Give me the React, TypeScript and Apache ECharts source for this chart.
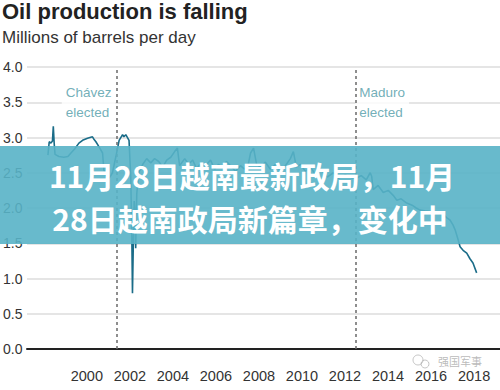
import React, { useEffect, useRef } from "react";
import * as echarts from "echarts";

// ---- data (years positioned on the chart's own year scale) ----
const years = [
  1998.19, 1998.25, 1998.33, 1998.4, 1998.44, 1998.48, 1998.52, 1998.7, 1998.93, 1999.12,
  1999.26, 1999.44, 1999.63, 1999.8, 2000.03, 2000.26, 2000.32, 2000.42, 2000.56, 2000.73,
  2000.79, 2000.96, 2001.07, 2001.19, 2001.35, 2001.5, 2001.66, 2001.72, 2001.81, 2001.96,
  2002.04, 2002.09, 2002.12, 2002.16, 2002.2, 2002.25, 2002.27, 2002.32, 2002.41, 2002.6,
  2002.78, 2002.97, 2003.15, 2003.34, 2003.53, 2003.71, 2003.9, 2004.08, 2004.21, 2004.31,
  2004.55, 2004.73, 2004.92, 2005.1, 2005.29, 2005.52, 2005.75, 2005.94, 2006.12, 2006.31,
  2006.49, 2006.68, 2006.91, 2007.14, 2007.33, 2007.51, 2007.61, 2007.75, 2007.89, 2008.07,
  2008.3, 2008.53, 2008.77, 2009.0, 2009.23, 2009.46, 2009.6, 2009.74, 2009.93, 2010.16,
  2010.39, 2010.62, 2010.85, 2011.18, 2011.46, 2011.69, 2012.01, 2012.32, 2012.52, 2012.76,
  2012.99, 2013.17, 2013.24, 2013.31, 2013.54, 2013.78, 2014.01, 2014.24, 2014.41, 2014.61,
  2014.87, 2015.12, 2015.31, 2015.49, 2015.72, 2016.0, 2016.28, 2016.56, 2016.74, 2016.88,
  2017.02, 2017.12, 2017.26, 2017.35, 2017.49, 2017.66, 2017.81, 2017.95, 2018.12,
];
const production = [
  2.75, 2.94, 2.92, 2.95, 3.16, 2.92, 2.76, 2.73, 2.72, 2.73,
  2.78, 2.84, 2.92, 2.96, 2.99, 3.01, 2.98, 2.94, 2.87, 2.78,
  2.54, 2.4, 2.44, 2.5, 2.73, 2.96, 3.04, 3.01, 3.04, 2.96,
  2.44, 1.6, 0.79, 1.5, 2.1, 1.9, 1.43, 2.2, 2.5, 2.62,
  2.7, 2.64, 2.7, 2.66, 2.58, 2.68, 2.72, 2.8, 2.85, 2.6,
  2.7, 2.62, 2.68, 2.56, 2.63, 2.6, 2.68, 2.55, 2.62, 2.58,
  2.66, 2.6, 2.52, 2.6, 2.55, 2.63, 2.78, 2.85, 2.62, 2.58,
  2.65, 2.55, 2.62, 2.52, 2.6, 2.7, 2.8, 2.58, 2.62, 2.52,
  2.58, 2.48, 2.55, 2.44, 2.5, 2.42, 2.47, 2.43, 2.42, 2.46,
  2.4, 2.5, 2.45, 2.26, 2.32, 2.22, 2.25, 2.18, 2.11, 2.13,
  2.07, 2.04, 2.0, 1.97, 1.96, 1.95, 1.93, 1.91, 1.86, 1.83,
  1.76, 1.69, 1.55, 1.45, 1.4, 1.36, 1.28, 1.22, 1.08,
];

const eventYears = [2001.39, 2012.48];
const eventLabels = ["Chávez\nelected", "Maduro\nelected"];
const eventLabelValue = 3.49;

const xTickLabels = [2000, 2002, 2004, 2006, 2008, 2010, 2012, 2014, 2016, 2018];

const titleText = "Oil production is falling";
const subtitleText = "Millions of barrels per day";
const bannerLines = ["11月28日越南最新政局，11月", "28日越南政局新篇章，变化中"];
const watermark = "强国军事";

// ---- styles ----
const eventLabelOffsets = [[-55, 0], [0, 0]];
const FONT = "'Liberation Sans', Arial, Helvetica, sans-serif";
const CJK = "'Noto Sans CJK SC', sans-serif";

export default function App() {
  const ref = useRef<HTMLDivElement>(null);

  useEffect(() => {
    document.body.style.margin = "0";
    if (!ref.current) return;
    const chart = echarts.init(ref.current, undefined, { renderer: "svg" });

    const lineData = years.map((y, i) => [y, production[i]]);

    chart.setOption({
      animation: false,
      grid: { left: 26, right: 0, top: 67, bottom: 41 },
      xAxis: {
        type: "value",
        min: 1997.217,
        max: 2019.206,
        axisLine: { show: true, onZero: false, lineStyle: { color: "#222", width: 2 } },
        axisTick: { show: false },
        splitLine: { show: false },
        axisLabel: {
          customValues: xTickLabels,
          formatter: (v: number) => String(Math.round(v)),
          color: "#333",
          fontSize: 14.5,
          fontFamily: FONT,
          margin: 19,
        },
      },
      yAxis: {
        type: "value",
        min: 0,
        max: 4,
        interval: 0.5,
        axisLine: { show: false },
        axisTick: { show: false },
        splitLine: { show: true, lineStyle: { color: "#dcdcdc", width: 1.5 } },
        axisLabel: {
          formatter: (v: number) => v.toFixed(1),
          color: "#333",
          fontSize: 14,
          fontFamily: FONT,
          align: "left",
          margin: 24,
        },
      },
      series: [
        {
          type: "line",
          data: lineData,
          showSymbol: false,
          symbol: "none",
          lineStyle: { color: "#1a6c88", width: 1.6 },
          z: 3,
          markLine: {
            silent: true,
            symbol: "none",
            label: { show: false },
            lineStyle: { color: "#6a6a6a", type: [3, 3], width: 1.5 },
            data: eventYears.map((x) => ({ xAxis: x })),
          },
        },
        {
          type: "scatter",
          symbolSize: 0,
          z: 2,
          data: eventYears.map((x, i) => ({
            value: [x, eventLabelValue],
            label: { offset: eventLabelOffsets[i] },
          })),
          label: {
            show: true,
            position: "inside",
            align: "left",
            verticalAlign: "middle",
            formatter: (p: any) => eventLabels[p.dataIndex],
            color: "#4e9aa6",
            fontSize: 13.5,
            fontFamily: FONT,
            lineHeight: 20,
            backgroundColor: "#ffffff",
            padding: [3, 4, 3, 4],
          },
        },
      ],
      graphic: [
        {
          type: "text",
          left: 2,
          top: 0,
          z: 100,
          style: { text: titleText, font: `bold 22px ${FONT}`, fill: "#222" },
        },
        {
          type: "text",
          left: 2,
          top: 29,
          z: 100,
          style: { text: subtitleText, font: `17px ${FONT}`, fill: "#333" },
        },
        {
          type: "rect",
          z: 100,
          shape: { x: 0, y: 146, width: 500, height: 98 },
          style: { fill: "rgba(88,178,198,0.9)" },
        },
        {
          type: "text",
          z: 101,
          x: 252,
          y: 175,
          style: {
            text: bannerLines[0],
            font: `bold 30px ${CJK}`,
            fill: "#ffffff",
            align: "center",
            verticalAlign: "middle",
          },
        },
        {
          type: "text",
          z: 101,
          x: 250,
          y: 218,
          style: {
            text: bannerLines[1],
            font: `bold 30px ${CJK}`,
            fill: "#ffffff",
            align: "center",
            verticalAlign: "middle",
          },
        },
        {
          type: "circle",
          z: 101,
          shape: { cx: 418, cy: 360, r: 5 },
          style: { fill: "none", stroke: "rgba(160,160,160,0.6)", lineWidth: 1 },
        },
        {
          type: "circle",
          z: 101,
          shape: { cx: 425, cy: 364, r: 4 },
          style: { fill: "none", stroke: "rgba(160,160,160,0.6)", lineWidth: 1 },
        },
        {
          type: "text",
          z: 101,
          x: 438,
          y: 361,
          style: {
            text: watermark,
            font: `11px ${CJK}`,
            fill: "rgba(140,140,140,0.6)",
            align: "left",
            verticalAlign: "middle",
          },
        },
      ],
    });

    return () => chart.dispose();
  }, []);

  return <div ref={ref} style={{ width: 500, height: 390 }} />;
}
